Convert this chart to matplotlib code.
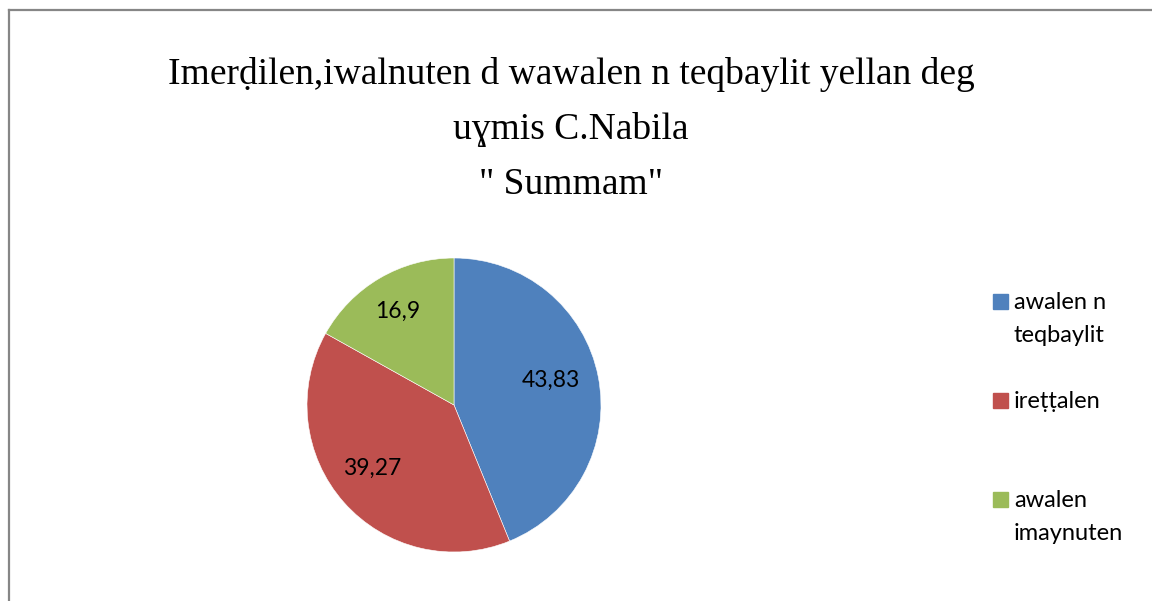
import matplotlib.pyplot as plt
from matplotlib.lines import Line2D
from matplotlib.patches import Rectangle

# Data ---------------------------------------------------------------------
categories = ['awalen n\nteqbaylit', 'ireṭṭalen', 'awalen\nimaynuten']
values = [43.83, 39.27, 16.9]
value_labels = ['43,83', '39,27', '16,9']
colors = ['#4F81BD', '#C0504D', '#9BBB59']

title_lines = ['Imerḍilen,iwalnuten d wawalen n teqbaylit yellan deg',
               'uɣmis C.Nabila',
               '" Summam"']

W, H = 1152, 601
serif = ['Liberation Serif', 'DejaVu Serif']
sans = ['Lato', 'Noto Sans', 'DejaVu Sans']

fig = plt.figure(figsize=(W / 100, H / 100), dpi=100)

# chart border (left and top edge only visible)
fig.add_artist(Line2D([9 / W, 9 / W], [0, 1 - 9.5 / H], color='#868686', lw=1.6))
fig.add_artist(Line2D([9 / W, 1], [1 - 9.5 / H, 1 - 9.5 / H], color='#868686', lw=1.6))

# title
for i, line in enumerate(title_lines):
    fig.text(571 / W, 1 - (74 + 55.5 * i) / H, line, family=serif, fontsize=27,
             ha='center', va='center')

# pie --------------------------------------------------------------------
cx, cy, r = 454, 405, 147
ax = fig.add_axes([(cx - r) / W, (H - cy - r) / H, 2 * r / W, 2 * r / H])
wedges, texts = ax.pie(values, colors=colors, startangle=90, counterclock=False,
                       labels=value_labels, labeldistance=0.7, radius=1,
                       wedgeprops=dict(edgecolor='white', linewidth=0.4))
for t in texts:
    t.set_family(sans)
    t.set_fontsize(16.5)
    t.set_ha('center')
    t.set_va('center_baseline')
    # nudge labels a little up-left like the original
    x, y = t.get_position()
    t.set_position((x - 0.03, y + 0.045))
ax.set_xlim(-1, 1)
ax.set_ylim(-1, 1)
ax.set_aspect('equal')
ax.axis('off')

# legend ------------------------------------------------------------------
leg_base = [309, 408, 507]
line_step = 33
for lab, col, y in zip(categories, colors, leg_base):
    fig.add_artist(Rectangle((993 / W, 1 - y / H), 15 / W, 15 / H,
                             color=col, transform=fig.transFigure))
    for k, part in enumerate(lab.split('\n')):
        fig.text(1014 / W, 1 - (y + k * line_step) / H, part, family=sans,
                 fontsize=17, ha='left', va='baseline')

fig.savefig('out.png', dpi=100)
